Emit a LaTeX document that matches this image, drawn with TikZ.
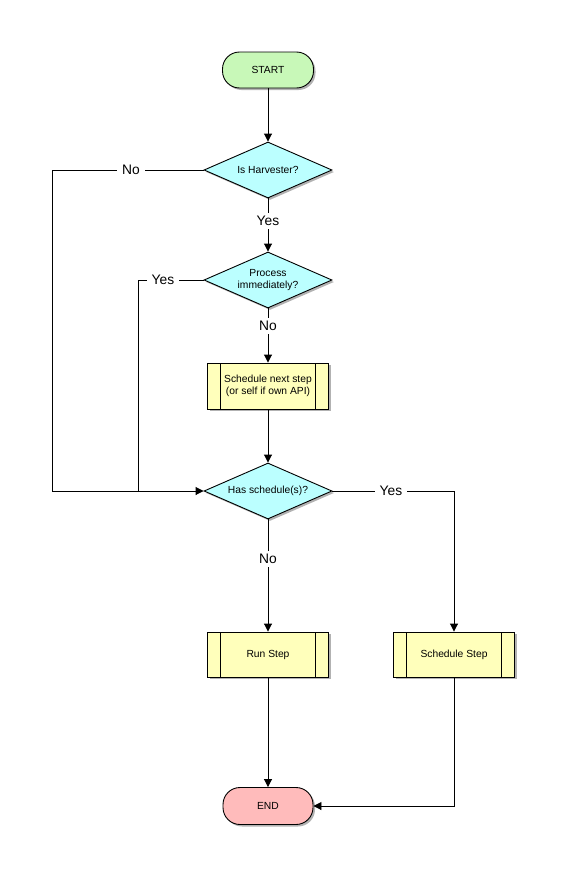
\documentclass[tikz,border=0pt]{standalone}
\usepackage{fontspec}
\setmainfont{Liberation Sans}
\usetikzlibrary{shapes.geometric,arrows.meta,shadows}
\definecolor{startgreen}{RGB}{200,248,184}
\definecolor{endpink}{RGB}{255,187,187}
\definecolor{decicyan}{RGB}{187,255,255}
\definecolor{procyellow}{RGB}{255,255,187}
\tikzset{
  shadowed/.style={drop shadow={shadow xshift=2pt,shadow yshift=-2pt,fill=black!60,opacity=0.5}},
  terminal/.style={draw,line width=0.9pt,rounded corners=17pt,minimum width=91pt,minimum height=36pt,inner sep=0pt,shadowed,font=\fontsize{10.3}{12.4}\selectfont},
  decision/.style={draw,line width=0.9pt,diamond,aspect=2.28,minimum width=128pt,minimum height=56pt,inner sep=0pt,fill=decicyan,shadowed,align=center,font=\fontsize{10.3}{12.4}\selectfont},
  process/.style={draw,line width=0.9pt,rectangle,minimum width=121pt,minimum height=46pt,inner sep=0pt,fill=procyellow,shadowed,align=center,font=\fontsize{10.3}{12.4}\selectfont,
    path picture={
      \draw[line width=0.9pt] ([xshift=13pt]path picture bounding box.north west) -- ([xshift=13pt]path picture bounding box.south west);
      \draw[line width=0.9pt] ([xshift=-13pt]path picture bounding box.north east) -- ([xshift=-13pt]path picture bounding box.south east);
    }},
  conn/.style={line width=0.9pt},
  arr/.style={conn,-{Triangle[length=8pt,width=8pt]}},
  lbl/.style={fill=white,inner xsep=5pt,inner ysep=3pt,font=\fontsize{13.8}{16}\selectfont}
}
\begin{document}
\begin{tikzpicture}[x=1pt,y=-1pt]
\useasboundingbox (0,0) rectangle (569,881);
\node[terminal,fill=startgreen] (start) at (268,70) {START};
\node[decision] (d1) at (268,170) {Is Harvester?};
\node[decision] (d2) at (268,280) {Process\\immediately?};
\node[process] (sched) at (268,386) {Schedule next step\\(or self if own API)};
\node[decision] (d3) at (268,491) {Has schedule(s)?};
\node[process,minimum height=45pt] (run) at (268,654.5) {Run Step};
\node[process,minimum height=45pt] (sstep) at (454,654.5) {Schedule Step};
\node[terminal,fill=endpink,minimum height=37pt,minimum width=90pt] (end) at (268,806) {END};

\coordinate (c1) at (52,170);
\coordinate (c2) at (52,491);
\coordinate (c3) at (138,280);
\coordinate (c4) at (138,491);
\coordinate (c5) at (454,491);
\coordinate (c6) at (454,806);

\draw[arr] (start) -- (d1);
\draw[arr] (d1) -- (d2);
\draw[arr] (d2) -- (sched);
\draw[arr] (sched) -- (d3);
\draw[arr] (d1.west) -- (c1) -- (c2) -- (d3.west);
\draw[conn] (d2.west) -- (c3) -- (c4);
\draw[arr] (d3.east) -- (c5) -- (sstep.north);
\draw[arr] (d3) -- (run);
\draw[arr] (run) -- (end);
\draw[arr] (sstep.south) -- (c6) -- (end.east);

\node[lbl] (l1) at (131,170) {No};
\node[lbl] (l2) at (268,221) {Yes};
\node[lbl] (l3) at (163,280) {Yes};
\node[lbl] (l4) at (268,326) {No};
\node[lbl] (l5) at (391,491) {Yes};
\node[lbl] (l6) at (268,559) {No};
\end{tikzpicture}
\end{document}
